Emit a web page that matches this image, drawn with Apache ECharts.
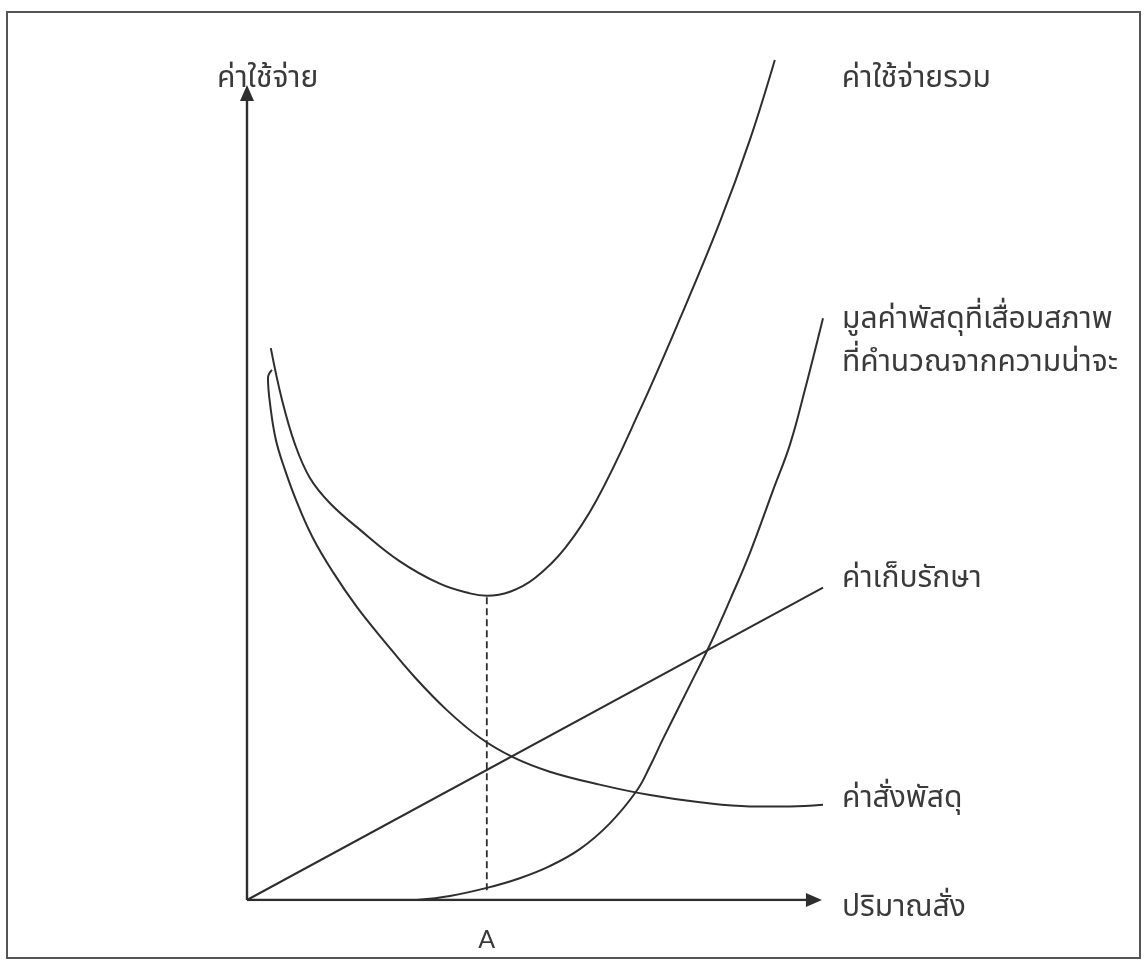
<!DOCTYPE html>
<html>
<head>
<meta charset="utf-8">
<title>ค่าใช้จ่ายกับปริมาณสั่ง</title>
<script src="https://cdn.jsdelivr.net/npm/echarts@6/dist/echarts.min.js"></script>
<style>
  html, body { margin: 0; padding: 0; background: #fff; }
  #chart { width: 1147px; height: 968px; }
</style>
</head>
<body>
<div id="chart"></div>
<script>
// Cost curves against order quantity (x: quantity, y: cost), points as [quantity, cost]
const totalCost = [
  [4.2, 68.4], [6.2, 61.9], [8.5, 56.4], [11.1, 52.3], [14.6, 49.2], [19.9, 45.9],
  [26.9, 42.0], [34.0, 39.2], [39.3, 38.0], [42.3, 37.7], [46.4, 38.2], [50.8, 39.9],
  [56.1, 43.6], [61.7, 49.6], [69.3, 60.7], [76.4, 72.1], [83.4, 84.0], [88.7, 94.2],
  [93.1, 104.1]
];
const deteriorationCost = [
  [30.0, 0], [35.8, 0.5], [42.3, 1.5], [48.1, 2.7], [53.4, 4.2], [58.7, 6.3],
  [64.0, 9.5], [68.8, 13.6], [71.1, 16.6], [73.4, 20.0], [78.1, 26.6], [81.7, 31.7],
  [85.2, 37.2], [88.7, 43.0], [92.8, 50.8], [95.8, 56.5], [98.4, 63.2], [101.6, 72.1]
];
const holdingCost = [
  [0, 0], [101.6, 38.7]
];
const orderingCost = [
  [4.4, 65.7], [3.7, 64.7], [4.1, 61.3], [5.1, 57.0], [6.7, 53.3], [8.8, 49.3],
  [11.6, 44.9], [15.2, 40.6], [19.4, 36.3], [24.3, 32.0], [29.6, 27.6], [35.3, 23.5],
  [41.1, 20.1], [46.9, 17.7], [53.4, 15.9], [62.2, 14.3], [71.1, 13.0], [79.9, 12.1],
  [88.7, 11.6], [95.8, 11.6], [101.6, 11.8]
];
// Optimal order quantity A, below the minimum of the total cost curve
const optimumQty = 42.3;
const optimumGuide = [[optimumQty, 1.2], [optimumQty, 37.7]];

// Axis arrows: drawn lengths of the quantity and cost axes
const xAxisArrow = [[0, 0], [100, 0]];
const yAxisArrow = [[0, 0], [0, 100]];
// Plot extents (room for the curves that run past the arrow heads)
const xExtent = [0, 101.6];
const yExtent = [0, 104.1];

// Text
const xTickLabels = ['A'];
const xAxisName = 'ปริมาณสั่ง';
const yAxisName = 'ค่าใช้จ่าย';
const seriesNames = {
  total: 'ค่าใช้จ่ายรวม',
  deterioration: 'มูลค่าพัสดุที่เสื่อมสภาพ\nที่คำนวณจากความน่าจะ',
  holding: 'ค่าเก็บรักษา',
  ordering: 'ค่าสั่งพัสดุ'
};

const INK = '#2e2e2e';
const TEXT = '#3a3a3a';
const THAI_FONT = '"Noto Sans Thai", "Noto Serif Thai", Loma, Garuda, "TlwgTypo", "Noto Sans", "DejaVu Sans", sans-serif';
const THAI_SIZE = 30;

const chart = echarts.init(document.getElementById('chart'), null, { renderer: 'canvas' });

function textLabel(text, offset) {
  return {
    show: true,
    formatter: text,
    distance: 0,
    offset: offset,
    color: TEXT,
    fontFamily: THAI_FONT,
    fontSize: THAI_SIZE,
    lineHeight: 43,
    align: 'left'
  };
}

function curve(name, data, labelOffset) {
  return {
    type: 'line',
    name: name,
    data: data,
    smooth: 0.4,
    showSymbol: false,
    symbol: 'none',
    silent: true,
    lineStyle: { color: INK, width: 2 },
    endLabel: textLabel(name, labelOffset)
  };
}

function axisArrow(name, data, rotate, labelOffset) {
  return {
    type: 'line',
    name: name,
    data: data,
    silent: true,
    showSymbol: true,
    showAllSymbol: true,
    symbol: (v, p) => (p.dataIndex === data.length - 1 ? 'triangle' : 'none'),
    symbolSize: [14, 16],
    symbolRotate: rotate,
    itemStyle: { color: INK, borderWidth: 0 },
    lineStyle: { color: INK, width: 2.4 },
    endLabel: textLabel(name, labelOffset),
    z: 3
  };
}

const option = {
  animation: false,
  backgroundColor: '#fff',
  grid: { left: 247, top: 60, right: 324, bottom: 68, outerBoundsMode: 'none' },
  xAxis: {
    type: 'value',
    min: xExtent[0],
    max: xExtent[1],
    splitLine: { show: false },
    axisTick: { show: false },
    axisLine: { show: false },
    axisLabel: {
      customValues: [optimumQty],
      formatter: () => xTickLabels[0],
      margin: 27,
      color: TEXT,
      fontFamily: 'Lato, "Open Sans", sans-serif',
      fontSize: 25
    }
  },
  yAxis: {
    type: 'value',
    min: yExtent[0],
    max: yExtent[1],
    splitLine: { show: false },
    axisTick: { show: false },
    axisLabel: { show: false },
    axisLine: { show: false }
  },
  graphic: [{
    type: 'rect',
    shape: { x: 7, y: 12, width: 1133, height: 946 },
    style: { fill: 'none', stroke: '#555', lineWidth: 2 },
    silent: true,
    z: -1
  }],
  series: [
    axisArrow(xAxisName, xAxisArrow, -90, [28, 10]),
    axisArrow(yAxisName, yAxisArrow, 0, [-30, -12]),
    curve(seriesNames.total, totalCost, [67, 21]),
    curve(seriesNames.deterioration, deteriorationCost, [19, 25]),
    curve(seriesNames.holding, holdingCost, [19, -7]),
    curve(seriesNames.ordering, orderingCost, [19, -4]),
    {
      type: 'line',
      name: 'A',
      data: optimumGuide,
      showSymbol: false,
      symbol: 'none',
      silent: true,
      lineStyle: { color: INK, width: 1.8, type: [7, 4] }
    }
  ]
};

chart.setOption(option);
</script>
</body>
</html>
